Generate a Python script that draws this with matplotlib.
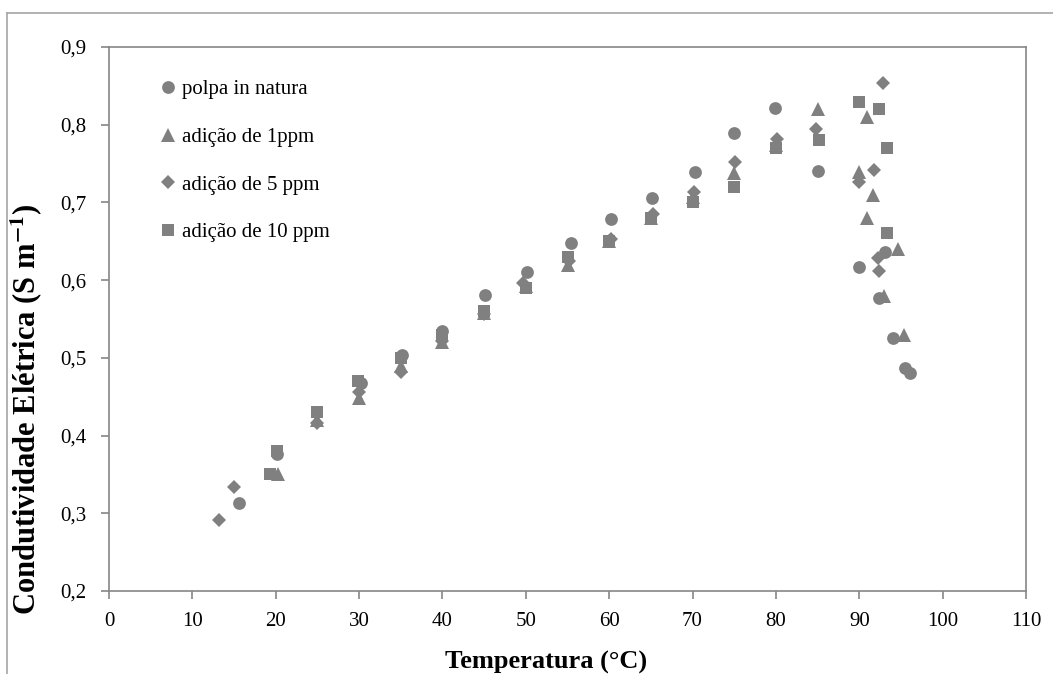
import numpy as np
import matplotlib.pyplot as plt
from matplotlib.lines import Line2D

# polpa in natura
x_polpa = [15.6, 20.1, 30.2, 35.1, 40.0, 45.1, 50.1, 55.4, 60.2, 65.1, 70.3, 75.0, 79.9,
           85.0, 90.0, 93.1, 92.4, 94.0, 95.5, 96.1]
y_polpa = [0.313, 0.376, 0.468, 0.504, 0.535, 0.581, 0.610, 0.648, 0.679, 0.706, 0.739, 0.789, 0.821,
           0.741, 0.617, 0.636, 0.577, 0.525, 0.487, 0.480]

# adicao de 1 ppm
x_1ppm = [20.3, 25.0, 30.0, 35.0, 40.0, 45.0, 50.0, 55.0, 60.0, 65.0, 70.0, 75.0, 80.0, 85.0,
          90.0, 90.9, 91.7, 90.9, 94.7, 93.0, 95.4]
y_1ppm = [0.350, 0.420, 0.448, 0.490, 0.520, 0.558, 0.592, 0.619, 0.651, 0.680, 0.707, 0.738, 0.774, 0.820,
          0.739, 0.810, 0.710, 0.680, 0.640, 0.579, 0.529]

# adicao de 5 ppm
x_5ppm = [13.2, 15.0, 25.0, 30.0, 35.0, 40.0, 45.0, 49.7, 55.2, 60.2, 65.2, 70.2, 75.1, 80.1,
          84.8, 90.0, 92.9, 91.8, 92.3, 92.4]
y_5ppm = [0.291, 0.334, 0.416, 0.456, 0.482, 0.522, 0.557, 0.596, 0.624, 0.653, 0.685, 0.714, 0.752, 0.781,
          0.794, 0.726, 0.854, 0.742, 0.628, 0.612]

# adicao de 10 ppm
x_10ppm = [19.3, 20.1, 25.0, 29.9, 35.0, 40.0, 45.0, 50.0, 55.0, 60.0, 65.0, 70.0, 75.0, 80.0,
           85.2, 90.0, 92.4, 93.3, 93.3]
y_10ppm = [0.350, 0.380, 0.430, 0.470, 0.500, 0.530, 0.560, 0.590, 0.630, 0.650, 0.680, 0.700, 0.720, 0.770,
           0.780, 0.829, 0.820, 0.770, 0.661]

labels = ['polpa in natura', 'adição de 1ppm', 'adição de 5 ppm', 'adição de 10 ppm']

plt.rcParams['font.family'] = ['Liberation Serif', 'DejaVu Serif']
plt.rcParams['mathtext.fontset'] = 'stix'
gray = '#808080'
spine = '#868686'

fig = plt.figure(figsize=(10.53, 6.74), dpi=100)
ax = fig.add_axes([109/1053, 1 - 591/674, (1026 - 109)/1053, (591 - 47)/674])

ax.plot(x_polpa, y_polpa, 'o', color=gray, ms=9.2, mew=0, label=labels[0])
ax.plot(x_1ppm, y_1ppm, '^', color=gray, ms=10, mew=0, label=labels[1])
ax.plot(x_5ppm, y_5ppm, 'D', color=gray, ms=6.8, mew=0, label=labels[2])
ax.plot(x_10ppm, y_10ppm, 's', color=gray, ms=8.6, mew=0, label=labels[3])

ax.set_xlim(0, 110)
ax.set_ylim(0.2, 0.9)
ax.set_xticks(np.arange(0, 111, 10))
ax.set_yticks(np.arange(0.2, 0.91, 0.1))
ax.set_yticklabels([f'{v:.1f}'.replace('.', ',') for v in np.arange(0.2, 0.91, 0.1)])
ax.tick_params(labelsize=15, color=spine, length=6, width=1.2)
ax.tick_params(axis='x', pad=9)
ax.tick_params(axis='y', pad=10)
for s in ax.spines.values():
    s.set_color(spine)
    s.set_linewidth(1.2)

ax.set_xlabel('Temperatura (°C)', fontsize=19, fontweight='bold')
ax.xaxis.set_label_coords(0.477, -0.1305)
ax.xaxis.label.set_va('center')
ax.set_ylabel('Condutividade Elétrica (S m$^{\\mathbf{-1}}$)', fontsize=22, fontweight='bold')
ax.yaxis.set_label_coords(-0.0894, 0.3346)
ax.yaxis.label.set_va('center')

ax.legend(loc='upper left', bbox_to_anchor=(0.058, 0.94), frameon=False, fontsize=15,
          handlelength=0.6, handletextpad=0.37, labelspacing=1.35, borderaxespad=0,
          borderpad=0)

# outer chart border
fig.add_artist(Line2D([7/1053, 7/1053], [0, 1 - 13/674], color='#a6a6a6', lw=1.2))
fig.add_artist(Line2D([7/1053, 1], [1 - 13/674, 1 - 13/674], color='#a6a6a6', lw=1.2))

fig.savefig('out.png', dpi=100)
